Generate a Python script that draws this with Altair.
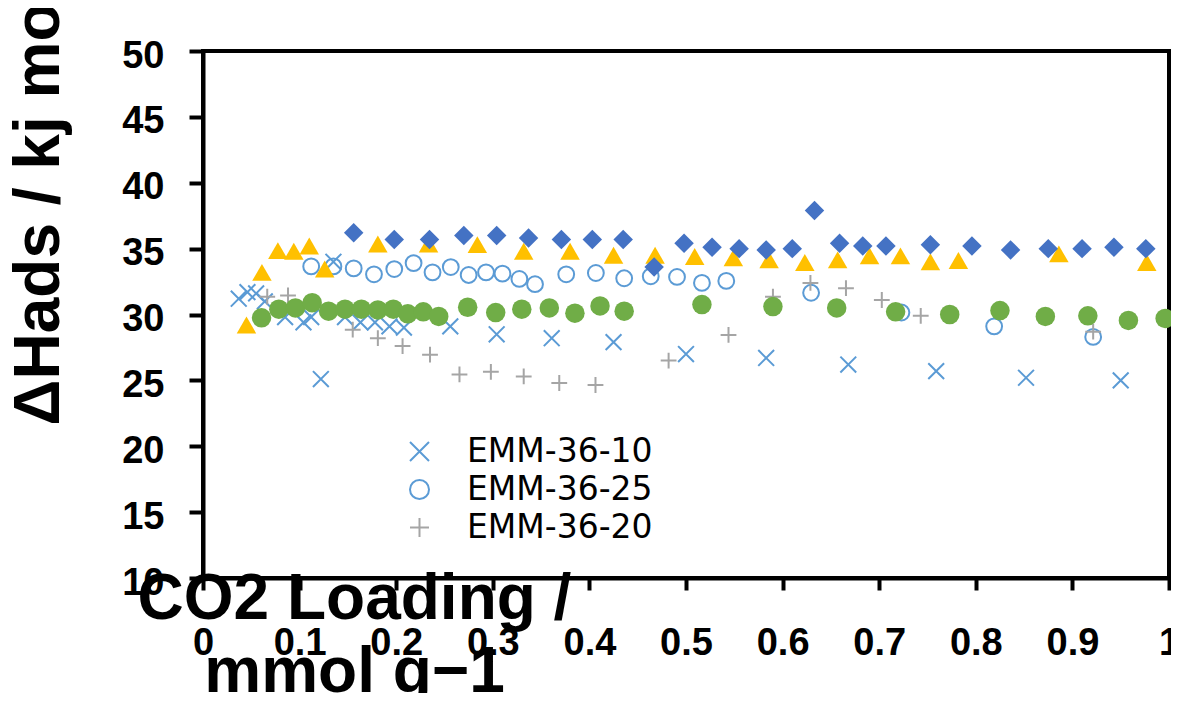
import altair as alt
import pandas as pd

# ---- data ----
emm10_x = [0.037, 0.046, 0.055, 0.064, 0.085, 0.104, 0.112, 0.122, 0.135, 0.147, 0.163, 0.178,
           0.193, 0.208, 0.256, 0.304, 0.361, 0.425, 0.50, 0.583, 0.668, 0.759, 0.852, 0.95]
emm10_y = [31.2, 31.7, 31.6, 31.0, 29.8, 29.4, 29.8, 25.1, 34.0, 29.8, 29.4, 29.4,
           29.1, 29.0, 29.1, 28.5, 28.2, 27.9, 27.0, 26.7, 26.2, 25.7, 25.2, 25.0]

emm25_x = [0.112, 0.135, 0.156, 0.177, 0.198, 0.218, 0.2376, 0.2565, 0.275, 0.293, 0.310, 0.3275,
           0.3437, 0.376, 0.4067, 0.436, 0.4635, 0.4907, 0.5165, 0.5417, 0.6295, 0.723, 0.819, 0.9215]
emm25_y = [33.65, 33.65, 33.5, 33.05, 33.45, 33.9, 33.2, 33.6, 33.0, 33.2, 33.1, 32.7,
           32.3, 33.05, 33.15, 32.75, 32.9, 32.85, 32.4, 32.55, 31.65, 30.15, 29.1, 28.3]

emm20_x = [0.0665, 0.088, 0.155, 0.181, 0.2066, 0.235, 0.2655, 0.298, 0.332, 0.3688, 0.4063,
           0.482, 0.544, 0.59, 0.6288, 0.6656, 0.7027, 0.743, 0.9215]
emm20_y = [31.35, 31.45, 28.85, 28.2, 27.6, 26.95, 25.45, 25.65, 25.3, 24.8, 24.65,
           26.5, 28.45, 31.35, 32.4, 32.0, 31.1, 29.9, 28.7]

tri_x = [0.045, 0.061, 0.0775, 0.094, 0.11, 0.126, 0.181, 0.2335, 0.284, 0.332, 0.38, 0.425,
         0.468, 0.509, 0.549, 0.586, 0.623, 0.657, 0.690, 0.722, 0.753, 0.782, 0.886, 0.977]
tri_y = [29.2, 33.2, 34.85, 34.8, 35.2, 33.45, 35.35, 35.35, 35.3, 34.8, 34.8, 34.5,
         34.5, 34.4, 34.3, 34.15, 33.95, 34.15, 34.45, 34.45, 34.0, 34.1, 34.6, 33.95]

dia_x = [0.156, 0.198, 0.2345, 0.27, 0.304, 0.337, 0.371, 0.403, 0.435, 0.467, 0.498, 0.527, 0.555,
         0.583, 0.61, 0.633, 0.659, 0.683, 0.707, 0.753, 0.796, 0.836, 0.875, 0.91, 0.943, 0.976]
dia_y = [36.2, 35.7, 35.7, 36.0, 36.0, 35.8, 35.7, 35.7, 35.7, 33.6, 35.4, 35.1, 35.0,
         34.9, 35.0, 37.9, 35.4, 35.2, 35.2, 35.3, 35.2, 34.9, 35.0, 35.0, 35.1, 35.0]

grn_x = [0.0606, 0.0785, 0.0957, 0.113, 0.130, 0.147, 0.164, 0.181, 0.197, 0.212, 0.228, 0.244,
         0.274, 0.303, 0.33, 0.3585, 0.385, 0.411, 0.436, 0.5165, 0.59, 0.656, 0.717, 0.773,
         0.825, 0.872, 0.916, 0.958, 0.996]
grn_y = [29.75, 30.4, 30.5, 30.9, 30.25, 30.4, 30.4, 30.35, 30.4, 30.05, 30.2, 29.85,
         30.55, 30.15, 30.4, 30.5, 30.1, 30.65, 30.25, 30.75, 30.6, 30.5, 30.2, 30.0,
         30.3, 29.85, 29.9, 29.55, 29.7]

legend_names = ["EMM-36-10", "EMM-36-25", "EMM-36-20"]
other_names = ["tri", "dia", "grn"]
x_ticks = [0, 0.1, 0.2, 0.3, 0.4, 0.5, 0.6, 0.7, 0.8, 0.9, 1]
y_ticks = [10, 15, 20, 25, 30, 35, 40, 45, 50]


def frame(name, xs, ys):
    return pd.DataFrame({"series": name, "x": xs, "y": ys})


df_a = pd.concat([frame("EMM-36-10", emm10_x, emm10_y),
                  frame("EMM-36-25", emm25_x, emm25_y),
                  frame("EMM-36-20", emm20_x, emm20_y)], ignore_index=True)
df_b = pd.concat([frame("tri", tri_x, tri_y),
                  frame("dia", dia_x, dia_y),
                  frame("grn", grn_x, grn_y)], ignore_index=True)

FONT = "Liberation Sans"
X_PATH = "M-1,-1L1,1M-1,1L1,-1"
PLUS_PATH = "M-1,0L1,0M0,-1L0,1"

x_enc = alt.X("x:Q", scale=alt.Scale(domain=[0, 1], nice=False, zero=False),
              axis=alt.Axis(values=x_ticks, format="~g", tickSize=12, labelPadding=34,
                            labelFlush=False,
                            titleX=151, titleY=40, titleAlign="center",
                            titleBaseline="alphabetic", titleLineHeight=73),
              title=["CO2 Loading /", "mmol g\u22121"])
y_enc = alt.Y("y:Q", scale=alt.Scale(domain=[10, 50], nice=False, zero=False),
              axis=alt.Axis(values=y_ticks, tickSize=14, labelPadding=25, labelOffset=5,
                            labelFlush=False,
                            titleX=-145, titleY=374, titleAngle=270, titleAlign="left",
                            titleBaseline="alphabetic"),
              title="\u0394Hads / kj mol\u22121")

leg = alt.Legend(title=None, orient="none", legendX=200, legendY=384,
                 labelFontSize=33, labelFont="DejaVu Sans", labelColor="black",
                 labelFontWeight="normal", labelLimit=0,
                 labelOffset=31, symbolSize=361, symbolStrokeWidth=2, rowPadding=4, padding=0)

layer_a = alt.Chart(df_a).mark_point(filled=False, strokeWidth=2, size=250, opacity=1).encode(
    x=x_enc, y=y_enc,
    color=alt.Color("series:N", scale=alt.Scale(domain=legend_names,
                                                range=["#5B9BD5", "#5B9BD5", "#A5A5A5"]),
                    legend=leg),
    shape=alt.Shape("series:N", scale=alt.Scale(domain=legend_names,
                                                range=[X_PATH, "circle", PLUS_PATH]),
                    legend=leg),
)

layer_b = alt.Chart(df_b).mark_point(filled=True, opacity=1).encode(
    x=x_enc, y=y_enc,
    color=alt.Color("series:N", scale=alt.Scale(domain=other_names,
                                                range=["#FFC000", "#4472C4", "#70AD47"]),
                    legend=None),
    shape=alt.Shape("series:N", scale=alt.Scale(domain=other_names,
                                                range=["triangle-up", "diamond", "circle"]),
                    legend=None),
    size=alt.Size("series:N", scale=alt.Scale(domain=other_names, range=[380, 380, 340]),
                  legend=None),
)

chart = alt.layer(layer_a, layer_b).resolve_scale(
    color="independent", shape="independent", size="independent"
).properties(
    width=966, height=527,
    autosize=alt.AutoSizeParams(type="none"),
    padding={"left": 195, "top": 43, "right": 2, "bottom": 115},
).configure_view(
    stroke="black", strokeWidth=4
).configure_axis(
    grid=False, domainColor="black", domainWidth=4, tickColor="black", tickWidth=4,
    labelFont=FONT, labelFontSize=38, labelFontWeight="bold", labelColor="black",
    titleFont=FONT, titleFontSize=64, titleFontWeight="bold", titleColor="black",
)

chart.save("out.html", embed_options={"renderer": "svg", "actions": False})
